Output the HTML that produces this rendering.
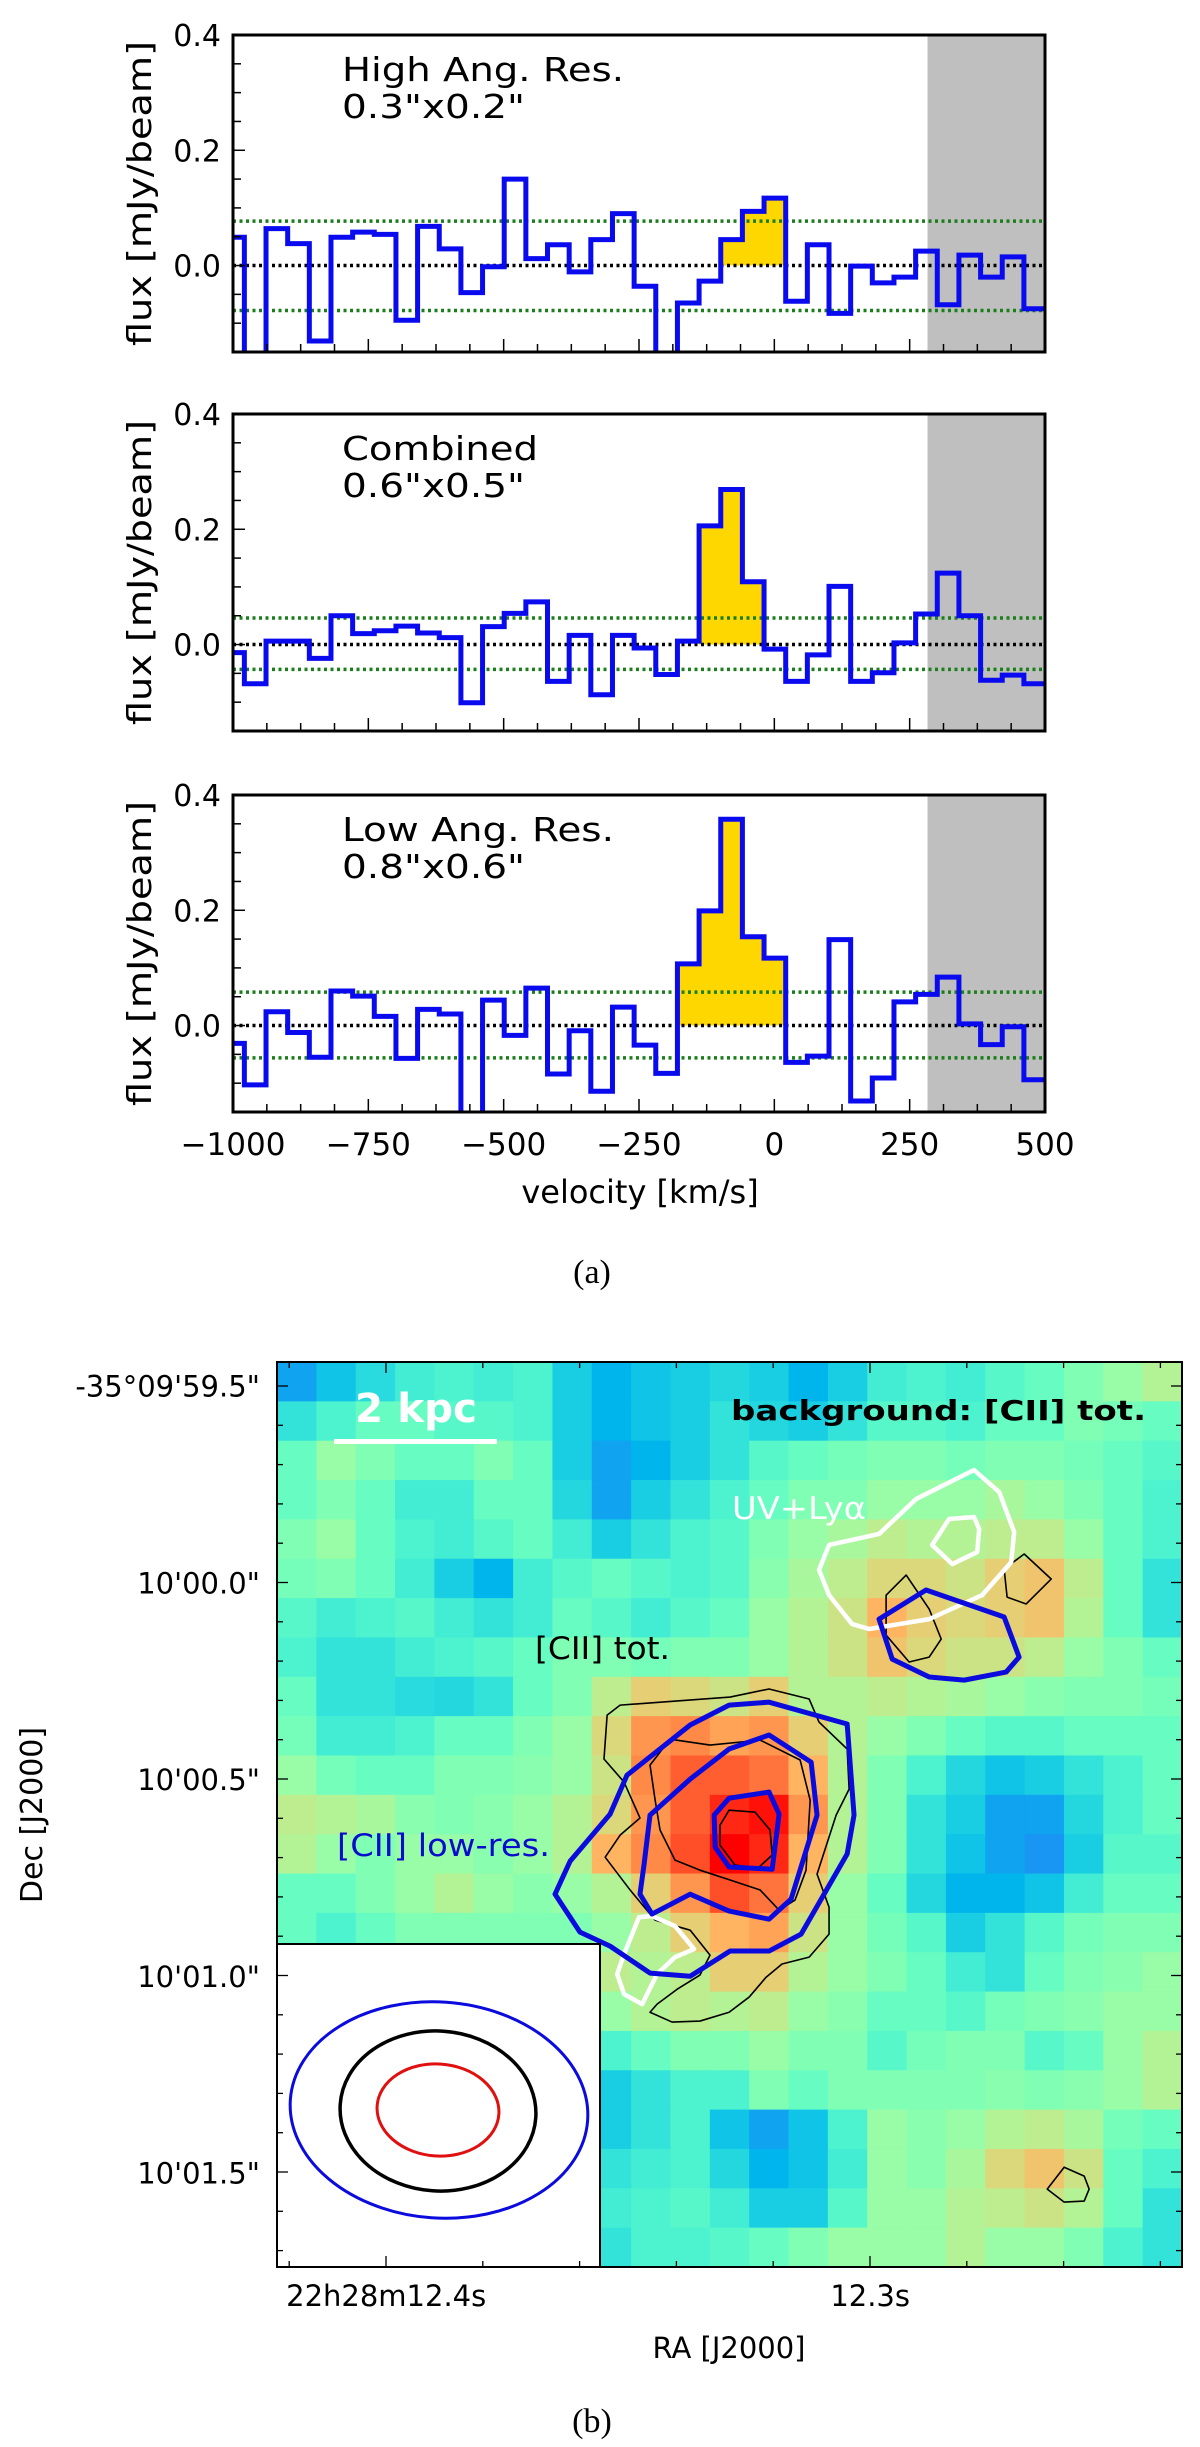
<!DOCTYPE html>
<html><head><meta charset="utf-8">
<style>
html,body{margin:0;padding:0;background:#fff;}
svg{display:block;}
text{font-family:"DejaVu Sans","Liberation Sans",sans-serif;}
</style></head>
<body>
<svg id="fig" width="1200" height="2447" viewBox="0 0 1200 2447" xmlns="http://www.w3.org/2000/svg">
<defs>
<clipPath id="clipP0"><rect x="233" y="35" width="812" height="317"/></clipPath>
<clipPath id="clipP1"><rect x="233" y="414" width="812" height="318"/></clipPath>
<clipPath id="clipP2"><rect x="233" y="795" width="812" height="317"/></clipPath>
<clipPath id="clipImg"><rect x="277" y="1362" width="905" height="905"/></clipPath>
</defs>
<g id="panelA"></g>
<g id="panelB"></g>
</svg>
<script>
// ---------- Spectra data ----------
const binStart = -1019;
const binWidth = 40;
const specHigh = [0.049,-0.16,0.064,0.038,-0.131,0.049,0.058,0.054,-0.095,0.068,0.029,-0.047,-0.002,0.150,0.012,0.036,-0.011,0.045,0.090,-0.036,-0.2,-0.065,-0.027,0.045,0.094,0.117,-0.062,0.036,-0.083,-0.001,-0.030,-0.020,0.025,-0.068,0.018,-0.020,0.015,-0.075];
const specComb = [-0.014,-0.068,0.006,0.006,-0.024,0.050,0.019,0.024,0.032,0.020,0.012,-0.101,0.031,0.054,0.074,-0.064,0.016,-0.087,0.016,-0.006,-0.052,0.006,0.206,0.269,0.109,-0.008,-0.064,-0.018,0.101,-0.064,-0.049,0.003,0.053,0.124,0.050,-0.062,-0.053,-0.068];
const specLow = [-0.031,-0.103,0.024,-0.012,-0.055,0.060,0.051,0.016,-0.057,0.028,0.020,-0.2,0.044,-0.017,0.065,-0.084,-0.009,-0.114,0.032,-0.034,-0.083,0.107,0.199,0.358,0.154,0.117,-0.064,-0.053,0.149,-0.131,-0.091,0.041,0.054,0.084,0.003,-0.033,-0.002,-0.094];
const lineBins = [[23,25],[22,24],[21,25]];
const sigmaHi = [0.077,0.046,0.058];
const sigmaLo = [-0.078,-0.043,-0.056];
const panelTitles = ["High Ang. Res.","Combined","Low Ang. Res."];
const panelBeams = ["0.3\"x0.2\"","0.6\"x0.5\"","0.8\"x0.6\""];
const grayFrom = 283;
const xTickVals = [-1000,-750,-500,-250,0,250,500];
const yTickVals = [0.0,0.2,0.4];

const NS = "http://www.w3.org/2000/svg";
function mk(tag, attrs, parent){
  const e = document.createElementNS(NS, tag);
  for (const k in attrs) e.setAttribute(k, attrs[k]);
  if (parent) parent.appendChild(e);
  return e;
}
const A = document.getElementById('panelA');
const L = 233, R = 1045, PH = 317;
const tops = [35,414,795];
const vMin = -1000, vMax = 500, fMin = -0.15, fMax = 0.4;
function xS(v){ return L + (v - vMin) / (vMax - vMin) * (R - L); }
function yS(p, f){ return tops[p] + (fMax - f) / (fMax - fMin) * PH; }
const allSpec = [specHigh, specComb, specLow];

for (let p = 0; p < 3; p++) {
  const g = mk('g', {}, A);
  
  
  const top = tops[p];
  const cg = mk('g', {'clip-path':'url(#clipP'+p+')'}, g);
  const gr = mk('rect', {x:xS(grayFrom), y:top, width:xS(vMax)-xS(grayFrom), height:PH, fill:'#bfbfbf'}, cg);
  
  
  const vals = allSpec[p];
  const lb = lineBins[p];
  let d = 'M' + xS(binStart + lb[0]*binWidth) + ' ' + yS(p,0);
  for (let i = lb[0]; i <= lb[1]; i++) {
    d += ' L' + xS(binStart + i*binWidth) + ' ' + yS(p, vals[i]);
    d += ' L' + xS(binStart + (i+1)*binWidth) + ' ' + yS(p, vals[i]);
  }
  d += ' L' + xS(binStart + (lb[1]+1)*binWidth) + ' ' + yS(p,0) + ' Z';
  const yf = mk('path', {d:d, fill:'#ffd700', stroke:'none'}, cg);
  
  
  const z = mk('line', {x1:L, x2:R, y1:yS(p,0), y2:yS(p,0), stroke:'#000', 'stroke-width':3.5, 'stroke-dasharray':'3 3.5'}, cg);
  
  
  const s1 = mk('line', {x1:L, x2:R, y1:yS(p,sigmaHi[p]), y2:yS(p,sigmaHi[p]), stroke:'#1a7f1a', 'stroke-width':3.5, 'stroke-dasharray':'3 3.5'}, cg);
  
  
  const s2 = mk('line', {x1:L, x2:R, y1:yS(p,sigmaLo[p]), y2:yS(p,sigmaLo[p]), stroke:'#1a7f1a', 'stroke-width':3.5, 'stroke-dasharray':'3 3.5'}, cg);
  
  
  let sd = '';
  for (let i = 0; i < vals.length; i++) {
    const x0 = xS(binStart + i*binWidth), x1 = xS(binStart + (i+1)*binWidth), y = yS(p, vals[i]);
    sd += (i === 0 ? 'M' : ' L') + x0 + ' ' + y + ' L' + x1 + ' ' + y;
  }
  const st = mk('path', {d:sd, fill:'none', stroke:'#0a0aee', 'stroke-width':5, 'stroke-linejoin':'miter'}, cg);
  
  
  for (let v = vMin; v <= vMax + 1; v += 62.5) {
    const major = Math.abs((v - vMin) % 250) < 1;
    const tk = mk('line', {x1:xS(v), x2:xS(v), y1:top+PH, y2:top+PH-(major?13:8), stroke:'#000', 'stroke-width':1.5}, g);
    
    
  }
  for (let f = -0.15; f <= 0.401; f += 0.05) {
    const major = Math.abs(Math.round(f*100) % 20) === 0;
    const tk = mk('line', {x1:L, x2:L+(major?12:8), y1:yS(p,f), y2:yS(p,f), stroke:'#000', 'stroke-width':1.5}, g);
    
    
  }
  const fr = mk('rect', {x:L, y:top, width:R-L, height:PH, fill:'none', stroke:'#000', 'stroke-width':3}, g);
  
  
  yTickVals.forEach(function(t){
    const tl = mk('text', {x:221, y:yS(p,t)+11, 'text-anchor':'end', 'font-size':30, fill:'#000'}, g);
    tl.textContent = t.toFixed(1);
    
    
  });
  const yl = mk('text', {x:0, y:0, transform:'translate(151,'+(top+PH/2)+') rotate(-90)', 'text-anchor':'middle', 'font-size':33, fill:'#000', textLength:305, lengthAdjust:'spacingAndGlyphs'}, g);
  yl.textContent = p === 0 ? 'flux [mJy/beam]' : 'flux  [mJy/beam]';
  
  
  const t1 = mk('text', {x:342, y:top+46, 'font-size':33, fill:'#000', textLength: p===1?196:(p===0?282:272), lengthAdjust:'spacingAndGlyphs'}, g);
  t1.textContent = panelTitles[p];
  
  
  const t2 = mk('text', {x:342, y:top+83, 'font-size':33, fill:'#000', textLength:183, lengthAdjust:'spacingAndGlyphs'}, g);
  t2.textContent = panelBeams[p];
  
  
  if (p === 2) {
    xTickVals.forEach(function(v){
      const xl = mk('text', {x:xS(v), y:1155, 'text-anchor':'middle', 'font-size':31, fill:'#000'}, g);
      xl.textContent = (v < 0 ? '\u2212' : '') + Math.abs(v);
      
      
    });
    const xt = mk('text', {x:640, y:1203, 'text-anchor':'middle', 'font-size':32, fill:'#000'}, g);
    xt.textContent = 'velocity [km/s]';
    
    
  }
}
const capA = mk('text', {x:592, y:1283, 'text-anchor':'middle', 'font-size':34, fill:'#000', style:'font-family:"Liberation Serif",serif'}, A);
capA.textContent = '(a)';



// ---------- Map data ----------
const mapGrid = [
[0.22,0.28,0.33,0.38,0.4,0.38,0.4,0.3,0.25,0.28,0.3,0.32,0.3,0.25,0.3,0.38,0.4,0.38,0.42,0.45,0.5,0.55,0.6],
[0.35,0.4,0.45,0.45,0.42,0.42,0.4,0.3,0.25,0.28,0.3,0.35,0.32,0.3,0.35,0.42,0.42,0.4,0.45,0.45,0.5,0.48,0.45],
[0.45,0.55,0.5,0.45,0.45,0.5,0.45,0.3,0.22,0.25,0.3,0.35,0.42,0.45,0.48,0.5,0.5,0.48,0.5,0.5,0.48,0.45,0.42],
[0.45,0.5,0.45,0.38,0.38,0.45,0.45,0.32,0.22,0.3,0.35,0.4,0.45,0.5,0.5,0.55,0.55,0.55,0.58,0.55,0.5,0.45,0.4],
[0.5,0.55,0.45,0.4,0.38,0.42,0.45,0.38,0.3,0.35,0.4,0.42,0.5,0.55,0.58,0.62,0.6,0.6,0.62,0.62,0.55,0.45,0.4],
[0.48,0.5,0.45,0.38,0.3,0.25,0.38,0.42,0.45,0.42,0.4,0.42,0.52,0.58,0.62,0.68,0.68,0.65,0.7,0.72,0.62,0.45,0.35],
[0.42,0.38,0.4,0.42,0.38,0.35,0.38,0.45,0.42,0.38,0.42,0.45,0.55,0.6,0.65,0.75,0.7,0.68,0.7,0.72,0.6,0.45,0.35],
[0.4,0.35,0.35,0.38,0.4,0.42,0.45,0.5,0.5,0.48,0.5,0.5,0.55,0.6,0.65,0.72,0.68,0.65,0.65,0.62,0.55,0.5,0.45],
[0.45,0.35,0.35,0.33,0.32,0.35,0.45,0.5,0.62,0.7,0.68,0.65,0.7,0.6,0.6,0.62,0.6,0.58,0.55,0.52,0.5,0.5,0.48],
[0.48,0.38,0.38,0.4,0.45,0.45,0.5,0.55,0.68,0.8,0.82,0.78,0.8,0.7,0.6,0.55,0.5,0.45,0.42,0.42,0.45,0.45,0.45],
[0.55,0.48,0.45,0.45,0.5,0.5,0.52,0.55,0.65,0.82,0.88,0.88,0.85,0.75,0.6,0.5,0.4,0.32,0.28,0.3,0.35,0.4,0.45],
[0.62,0.6,0.58,0.52,0.5,0.52,0.55,0.6,0.68,0.8,0.88,0.95,0.98,0.8,0.6,0.5,0.35,0.3,0.22,0.22,0.32,0.4,0.45],
[0.6,0.55,0.5,0.55,0.55,0.52,0.55,0.6,0.75,0.82,0.9,1.0,0.95,0.75,0.6,0.5,0.35,0.28,0.22,0.2,0.3,0.42,0.42],
[0.45,0.45,0.5,0.55,0.6,0.55,0.52,0.55,0.6,0.7,0.8,0.9,0.85,0.7,0.55,0.45,0.32,0.25,0.25,0.28,0.38,0.45,0.45],
[0.45,0.4,0.45,0.5,0.5,0.5,0.5,0.5,0.55,0.62,0.7,0.75,0.78,0.65,0.55,0.48,0.42,0.3,0.35,0.42,0.48,0.5,0.5],
[0.5,0.5,0.5,0.5,0.5,0.5,0.5,0.5,0.62,0.6,0.62,0.7,0.7,0.6,0.55,0.5,0.45,0.38,0.35,0.45,0.5,0.52,0.55],
[0.5,0.5,0.5,0.5,0.5,0.5,0.5,0.5,0.55,0.6,0.62,0.6,0.62,0.55,0.52,0.45,0.45,0.42,0.48,0.5,0.52,0.55,0.55],
[0.5,0.5,0.5,0.5,0.5,0.5,0.5,0.5,0.4,0.45,0.5,0.5,0.55,0.5,0.5,0.42,0.48,0.5,0.5,0.42,0.45,0.55,0.6],
[0.5,0.5,0.5,0.5,0.5,0.5,0.5,0.5,0.3,0.35,0.4,0.4,0.5,0.45,0.5,0.5,0.5,0.5,0.52,0.5,0.52,0.55,0.6],
[0.5,0.5,0.5,0.5,0.5,0.5,0.5,0.5,0.3,0.35,0.4,0.28,0.22,0.28,0.4,0.55,0.52,0.55,0.6,0.62,0.58,0.48,0.45],
[0.5,0.5,0.5,0.5,0.5,0.5,0.5,0.5,0.35,0.38,0.4,0.32,0.25,0.28,0.38,0.55,0.52,0.58,0.68,0.72,0.65,0.45,0.4],
[0.5,0.5,0.5,0.5,0.5,0.5,0.5,0.5,0.38,0.4,0.42,0.38,0.3,0.3,0.42,0.55,0.55,0.6,0.62,0.65,0.6,0.45,0.35],
[0.5,0.5,0.5,0.5,0.5,0.5,0.5,0.5,0.35,0.4,0.4,0.42,0.45,0.5,0.55,0.55,0.55,0.6,0.55,0.55,0.5,0.4,0.35]
];
const blueOuter = [[22.98,17.44],[25.01,17.29],[28.98,18.40],[29.33,23.03],[28.98,25.01],[26.64,29.08],[25.01,29.94],[23.03,29.94],[21.0,31.22],[18.96,31.06],[16.93,29.69],[15.40,28.98],[14.13,27.05],[14.90,25.37],[16.93,22.98],[17.79,21.0],[21.0,18.45]];
const blueMiddle = [[22.98,19.67],[25.01,18.96],[27.15,20.34],[27.45,23.03],[26.13,27.30],[25.01,28.32],[22.98,27.91],[21.0,27.05],[19.06,28.06],[18.45,27.05],[18.66,25.52],[18.96,23.03],[21.0,21.20]];
const blueInner = [[22.22,23.03],[22.98,22.17],[25.01,21.86],[25.52,22.98],[25.17,25.78],[22.98,25.67],[22.27,24.66]];
const blueNE = [[30.60,13.07],[32.99,11.59],[36.96,12.96],[37.72,15.0],[37.06,15.76],[34.93,16.17],[33.15,16.01],[31.27,15.10]];
const whiteBig = [[27.55,10.57],[28.06,9.30],[30.60,8.74],[32.49,6.96],[35.43,5.49],[36.71,6.61],[37.47,8.64],[37.32,10.17],[35.84,11.85],[33.15,13.07],[30.10,13.57],[29.23,13.32],[28.06,11.85]];
const whiteSmall = [[33.30,9.30],[34.16,7.98],[35.43,7.88],[35.69,8.49],[35.59,9.66],[34.32,10.27]];
const whiteSW = [[18.40,28.22],[19.06,28.16],[20.23,28.67],[21.20,29.84],[20.23,30.25],[19.32,31.11],[18.56,32.64],[17.64,32.13],[17.29,31.11],[17.64,30.10]];
const blackOuter = [[16.78,17.95],[17.44,17.44],[23.03,17.03],[25.01,16.62],[27.05,17.13],[27.55,18.30],[28.98,19.67],[29.08,21.71],[28.42,23.03],[27.45,26.03],[28.06,27.71],[28.06,29.08],[27.05,30.25],[25.67,30.60],[24.86,31.27],[24.0,32.28],[22.98,33.05],[21.50,33.50],[20.08,33.55],[18.96,33.05],[19.32,32.64],[20.34,31.88],[21.50,31.16],[22.01,30.15],[21.0,28.88],[19.22,28.37],[17.95,26.84],[16.68,25.17],[17.44,24.05],[18.45,23.18],[17.64,21.35],[16.62,20.18]];
const blackMid = [[18.96,20.49],[19.98,19.17],[22.01,19.47],[24.56,19.22],[26.59,20.23],[27.10,22.27],[26.89,25.83],[26.33,27.35],[25.52,27.86],[24.56,26.84],[23.03,26.33],[21.50,25.83],[20.23,25.32],[19.47,23.79],[19.22,22.27]];
const blackInner = [[22.98,22.78],[24.30,22.88],[25.06,23.79],[25.17,25.06],[24.45,25.72],[23.28,25.57],[22.52,24.56],[22.52,23.54]];
const blackN1 = [[30.96,11.85],[31.98,10.83],[33.15,12.56],[33.76,14.08],[33.15,15.0],[32.13,15.25],[30.96,13.88]];
const blackN2 = [[36.96,10.52],[37.98,9.76],[39.35,11.03],[38.08,12.30],[37.11,11.95]];
const blackSE = [[39.15,42.04],[40.01,40.93],[41.03,41.38],[41.28,42.04],[41.03,42.65],[40.01,42.70]];
const decLabels = ["-35\u00B009'59.5\"","10'00.0\"","10'00.5\"","10'01.0\"","10'01.5\""];
const decLabelPix = [1.2,11.2,21.2,31.2,41.2];
const raLabels = ["22h28m12.4s","12.3s"];
const raLabelPix = [5.55,30.15];

const B = document.getElementById('panelB');
const IX = 277, IY = 1362, IS = 905, NPIX = 46;
function mx(u){ return IX + u / NPIX * IS; }
function my(v){ return IY + v / NPIX * IS; }
function rainbow(t){
  t = Math.max(0, Math.min(1, t));
  const r = Math.min(1, Math.abs(2*t - 0.5));
  const g = Math.sin(Math.PI * t);
  const b = Math.max(0, Math.cos(Math.PI / 2 * t));
  return 'rgb(' + Math.round(r*255) + ',' + Math.round(g*255) + ',' + Math.round(b*255) + ')';
}
const mg = mk('g', {'clip-path':'url(#clipImg)'}, B);
const nR = mapGrid.length, nC = mapGrid[0].length;
const cellU = NPIX / nC;
for (let r = 0; r < nR; r++) {
  for (let c = 0; c < nC; c++) {
    const cell = mk('rect', {x:mx(c*cellU), y:my(r*cellU), width:mx((c+1)*cellU)-mx(c*cellU)+0.6, height:my((r+1)*cellU)-my(r*cellU)+0.6, fill:rainbow(mapGrid[r][c])}, mg);
    
    
  }
}
function contour(pts, color, w, name){
  const d = pts.map(function(p,i){ return (i?'L':'M') + mx(p[0]) + ' ' + my(p[1]); }).join(' ') + ' Z';
  const e = mk('path', {d:d, fill:'none', stroke:color, 'stroke-width':w, 'stroke-linejoin':'round'}, mg);
  
  
}
[blackOuter, blackMid, blackInner, blackN1, blackN2, blackSE].forEach(function(c){ contour(c, '#000', 1.6, 'cii-tot-contour'); });
[whiteBig, whiteSmall, whiteSW].forEach(function(c){ contour(c, '#fff', 4.5, 'uv-lya-contour'); });
[blueOuter, blueMiddle, blueInner, blueNE].forEach(function(c){ contour(c, '#0b0bde', 5, 'cii-lowres-contour'); });

const inset = mk('g', {}, B);


mk('rect', {x:IX, y:1944, width:323, height:323, fill:'#fff'}, inset);
mk('path', {d:'M'+IX+' 1944 H600 V2267', fill:'none', stroke:'#000', 'stroke-width':2}, inset);
const eB = mk('ellipse', {cx:439, cy:2110, rx:149, ry:108, fill:'none', stroke:'#0b0bde', 'stroke-width':3, transform:'rotate(4 439 2110)'}, inset);


const eK = mk('ellipse', {cx:438, cy:2111, rx:98, ry:80, fill:'none', stroke:'#000', 'stroke-width':3.5, transform:'rotate(4 438 2111)'}, inset);


const eR = mk('ellipse', {cx:438, cy:2110, rx:61, ry:46, fill:'none', stroke:'#e01010', 'stroke-width':3, transform:'rotate(4 438 2110)'}, inset);



const sb = mk('rect', {x:334, y:1439, width:163, height:5, fill:'#fff'}, B);


function label(txt, x, y, size, color, weight, name, anchor, tl){
  const a = {x:x, y:y, 'font-size':size, fill:color, 'font-weight':weight||'normal'};
  if (anchor) a['text-anchor'] = anchor;
  if (tl) { a.textLength = tl; a.lengthAdjust = 'spacingAndGlyphs'; }
  const t = mk('text', a, B);
  t.textContent = txt;
  
  
  return t;
}
label('2 kpc', 355, 1422, 40, '#fff', 'bold', 'scale-bar-label', null, 122);
label('background: [CII] tot.', 731, 1420, 28, '#000', 'bold', 'background-label', null, 415);
label('UV+Ly\u03B1', 732, 1519, 31, '#fff', 'normal', 'uv-lya-label', null, 134);
label('[CII] tot.', 535, 1659, 31, '#000', 'normal', 'cii-tot-label', null, 135);
label('[CII] low-res.', 337, 1856, 31, '#0b0bcc', 'normal', 'cii-lowres-label', null, 213);

const tg = mk('g', {}, B);
for (let k = 0; k <= 23; k++) {
  const y = IY + 24 + k * 39.3;
  if (y > IY + IS) break;
  const major = (k % 5) === 0;
  mk('line', {x1:IX, x2:IX+(major?11:6), y1:y, y2:y, stroke:'#000', 'stroke-width':1.3}, tg);
  mk('line', {x1:IX+IS, x2:IX+IS-(major?11:6), y1:y, y2:y, stroke:'#000', 'stroke-width':1.3}, tg);
}
for (let k = -1; k <= 9; k++) {
  const x = 386 + k * 96.8;
  if (x < IX || x > IX + IS) continue;
  const major = (k % 5) === 0;
  mk('line', {x1:x, x2:x, y1:IY+IS, y2:IY+IS-(major?11:6), stroke:'#000', 'stroke-width':1.3}, tg);
  mk('line', {x1:x, x2:x, y1:IY, y2:IY+(major?11:6), stroke:'#000', 'stroke-width':1.3}, tg);
}
const ifr = mk('rect', {x:IX, y:IY, width:IS, height:IS, fill:'none', stroke:'#000', 'stroke-width':2}, B);



decLabels.forEach(function(t, i){
  label(t, 260, my(decLabelPix[i]) + 11, 29, '#000', 'normal', 'dec-tick-label', 'end');
});
raLabels.forEach(function(t, i){
  label(t, mx(raLabelPix[i]), 2306, 29, '#000', 'normal', 'ra-tick-label', 'middle');
});
label('RA [J2000]', 729, 2358, 29, '#000', 'normal', 'x-axis-title', 'middle');
const dl = mk('text', {x:0, y:0, transform:'translate(42,1815) rotate(-90)', 'text-anchor':'middle', 'font-size':30, fill:'#000'}, B);
dl.textContent = 'Dec [J2000]';


const capB = mk('text', {x:592, y:2432, 'text-anchor':'middle', 'font-size':34, fill:'#000', style:'font-family:"Liberation Serif",serif'}, B);
capB.textContent = '(b)';


</script>
</body></html>
